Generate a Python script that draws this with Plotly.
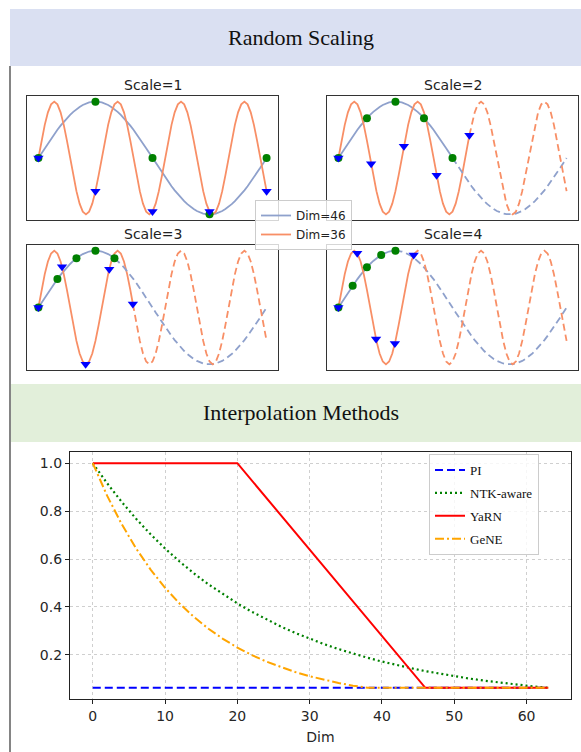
import plotly.graph_objects as go

W, H = 581, 752

# ---------------- Random Scaling data ----------------
t_grid = [k / 72 for k in range(73)]

dim46_vals = [
    0.0, 0.087, 0.174, 0.259, 0.342, 0.423, 0.5, 0.574, 0.643, 0.707, 0.766, 0.819, 0.866, 0.906, 0.94, 0.966, 0.985, 0.996, 1.0,
    0.996, 0.985, 0.966, 0.94, 0.906, 0.866, 0.819, 0.766, 0.707, 0.643, 0.574, 0.5, 0.423, 0.342, 0.259, 0.174, 0.087, 0.0,
    -0.087, -0.174, -0.259, -0.342, -0.423, -0.5, -0.574, -0.643, -0.707, -0.766, -0.819, -0.866, -0.906, -0.94, -0.966, -0.985, -0.996, -1.0,
    -0.996, -0.985, -0.966, -0.94, -0.906, -0.866, -0.819, -0.766, -0.707, -0.643, -0.574, -0.5, -0.423, -0.342, -0.259, -0.174, -0.087, 0.0,
]

dim36_vals = [
    0.0, 0.309, 0.588, 0.809, 0.951, 1.0, 0.951, 0.809, 0.588, 0.309, 0.0, -0.309, -0.588, -0.809, -0.951, -1.0, -0.951, -0.809, -0.588, -0.309,
    0.0, 0.309, 0.588, 0.809, 0.951, 1.0, 0.951, 0.809, 0.588, 0.309, 0.0, -0.309, -0.588, -0.809, -0.951, -1.0, -0.951, -0.809, -0.588, -0.309,
    0.0, 0.309, 0.588, 0.809, 0.951, 1.0, 0.951, 0.809, 0.588, 0.309, 0.0, -0.309, -0.588, -0.809, -0.951, -1.0, -0.951, -0.809, -0.588, -0.309,
    0.0, 0.309, 0.588, 0.809, 0.951, 1.0, 0.951, 0.809, 0.588, 0.309, 0.0, -0.309, -0.588,
]

scales = [1, 2, 3, 4]
scale_titles = ["Scale=1", "Scale=2", "Scale=3", "Scale=4"]

dot_t = {1: [0, 0.25, 0.5, 0.75, 1.0],
         2: [0, 0.125, 0.25, 0.375, 0.5],
         3: [0, 0.0833, 0.1667, 0.25, 0.3333],
         4: [0, 0.0625, 0.125, 0.1875, 0.25]}
dot_v = {1: [0, 1.0, 0, -1.0, 0],
         2: [0, 0.707, 1.0, 0.707, 0],
         3: [0, 0.5, 0.866, 1.0, 0.866],
         4: [0, 0.383, 0.707, 0.924, 1.0]}
tri_t = {1: [0, 0.25, 0.5, 0.75, 1.0],
         2: [0, 0.1435, 0.287, 0.4305, 0.574],
         3: [0, 0.1035, 0.207, 0.3105, 0.414],
         4: [0, 0.0825, 0.165, 0.2475, 0.33]}
tri_v = {1: [0, -0.588, -0.951, -0.951, -0.588],
         2: [0, -0.104, 0.207, -0.308, 0.405],
         3: [0, 0.718, -0.9996, 0.674, 0.061],
         4: [0, 0.957, -0.556, -0.632, 0.925]}

# ---------------- Interpolation Methods data ----------------
ntk_dims = [0, 2, 4, 6, 8, 10, 12, 14, 16, 18, 20, 22, 24, 26, 28, 30, 32, 34, 36, 38, 40,
            42, 44, 46, 48, 50, 52, 54, 56, 58, 60, 62, 63]
ntk_vals = [1.0, 0.9158, 0.8386, 0.7679, 0.7032, 0.644, 0.5897, 0.54, 0.4945, 0.4529, 0.4147,
            0.3798, 0.3478, 0.3185, 0.2916, 0.2671, 0.2446, 0.224, 0.2051, 0.1878, 0.172,
            0.1575, 0.1442, 0.1321, 0.121, 0.1108, 0.1014, 0.0929, 0.0851, 0.0779, 0.0713, 0.0653, 0.0625]
gene_dims = [0, 2, 4, 6, 8, 10, 12, 14, 16, 18, 20, 22, 24, 26, 28, 30, 32, 34, 36, 38, 63]
gene_vals = [1.0, 0.8635, 0.7456, 0.6438, 0.5559, 0.4801, 0.4145, 0.358, 0.3091, 0.2669, 0.2305,
             0.199, 0.1718, 0.1484, 0.1281, 0.1106, 0.0955, 0.0825, 0.0712, 0.0625, 0.0625]
yarn_dims = [0, 20, 46, 63]
yarn_vals = [1.0, 1.0, 0.0625, 0.0625]
pi_dims = [0, 63]
pi_vals = [0.0625, 0.0625]
x_ticks = [0, 10, 20, 30, 40, 50, 60]
y_ticks = [0.2, 0.4, 0.6, 0.8, 1.0]

# ---------------- styling ----------------
C46 = "#8fa1cc"
C36 = "#f88f66"
SANS = "DejaVu Sans"
SERIF = "Liberation Serif"
EPS = 1e-6


def fx(px):
    return px / W


def fy(py):
    return 1 - py / H


fig = go.Figure()

boxes = {1: (27, 278, 96, 220), 2: (327, 578, 96, 220),
         3: (27, 278, 245, 370), 4: (327, 578, 245, 370)}

layout_axes = {}
for i, s in enumerate(scales, start=1):
    xa = "x" if i == 1 else f"x{i}"
    ya = "y" if i == 1 else f"y{i}"
    x0, x1, y0, y1 = boxes[s]
    ax_common = dict(showgrid=False, zeroline=False, showticklabels=False, ticks="",
                     showline=True, linecolor="#333333", linewidth=1, mirror=True)
    layout_axes["xaxis" if i == 1 else f"xaxis{i}"] = dict(
        domain=[fx(x0), fx(x1)], range=[-0.05, 1.05], anchor=ya, **ax_common)
    layout_axes["yaxis" if i == 1 else f"yaxis{i}"] = dict(
        domain=[fy(y1), fy(y0)], range=[-1.1, 1.1], anchor=xa, **ax_common)

    if s == 1:
        b_solid = (t_grid, dim46_vals)
        o_solid = (t_grid, dim36_vals)
        b_dash = o_dash = None
    else:
        bt, bv = dot_t[s][-1], dot_v[s][-1]
        ot, ov = tri_t[s][-1], tri_v[s][-1]
        b_solid = ([t for t in t_grid if t < bt - EPS] + [bt],
                   [v for t, v in zip(t_grid, dim46_vals) if t < bt - EPS] + [bv])
        b_dash = ([bt] + [t for t in t_grid if t > bt + EPS],
                  [bv] + [v for t, v in zip(t_grid, dim46_vals) if t > bt + EPS])
        o_solid = ([t for t in t_grid if t < ot - EPS] + [ot],
                   [v for t, v in zip(t_grid, dim36_vals) if t < ot - EPS] + [ov])
        o_dash = ([ot] + [t for t in t_grid if t > ot + EPS],
                  [ov] + [v for t, v in zip(t_grid, dim36_vals) if t > ot + EPS])

    fig.add_trace(go.Scatter(x=b_solid[0], y=b_solid[1], mode="lines", xaxis=xa, yaxis=ya,
                             line=dict(color=C46, width=1.8), name="Dim=46",
                             showlegend=(s == 1), legend="legend"))
    fig.add_trace(go.Scatter(x=o_solid[0], y=o_solid[1], mode="lines", xaxis=xa, yaxis=ya,
                             line=dict(color=C36, width=1.8), name="Dim=36",
                             showlegend=(s == 1), legend="legend"))
    if b_dash is not None:
        fig.add_trace(go.Scatter(x=b_dash[0], y=b_dash[1], mode="lines", xaxis=xa, yaxis=ya,
                                 line=dict(color=C46, width=1.8, dash="7px,4px"), showlegend=False))
        fig.add_trace(go.Scatter(x=o_dash[0], y=o_dash[1], mode="lines", xaxis=xa, yaxis=ya,
                                 line=dict(color=C36, width=1.8, dash="7px,4px"), showlegend=False))
    fig.add_trace(go.Scatter(x=dot_t[s], y=dot_v[s], mode="markers", xaxis=xa, yaxis=ya,
                             marker=dict(symbol="circle", color="#008000", size=8, line=dict(width=0)),
                             showlegend=False))
    fig.add_trace(go.Scatter(x=tri_t[s], y=tri_v[s], mode="markers", xaxis=xa, yaxis=ya,
                             marker=dict(symbol="triangle-down", color="#0000ff", size=9, line=dict(width=0)),
                             showlegend=False))
    fig.add_annotation(x=(fx(x0) + fx(x1)) / 2, y=fy(y0 - 1), xref="paper", yref="paper",
                       text=scale_titles[i - 1], showarrow=False, xanchor="center", yanchor="bottom",
                       font=dict(family=SANS, size=14, color="#222222"))

# bottom chart
bx0, bx1, by0, by1 = 70, 571, 452, 699
axis_font = dict(family=SANS, size=14, color="#262626")
layout_axes["xaxis5"] = dict(domain=[fx(bx0), fx(bx1)], range=[-3.15, 66.15], anchor="y5",
                             tickvals=x_ticks, ticks="outside", ticklen=4, tickcolor="#222222",
                             showline=True, linecolor="#222222", linewidth=1.2, mirror=True,
                             showgrid=True, gridcolor="#cfcfcf", griddash="dot", gridwidth=1,
                             zeroline=False, tickfont=axis_font,
                             title=dict(text="Dim", font=axis_font, standoff=9))
layout_axes["yaxis5"] = dict(domain=[fy(by1), fy(by0)], range=[0.0156, 1.0469], anchor="x5",
                             tickvals=y_ticks, tickformat=".1f", ticks="outside", ticklen=4,
                             tickcolor="#222222",
                             showline=True, linecolor="#222222", linewidth=1.2, mirror=True,
                             showgrid=True, gridcolor="#cfcfcf", griddash="dot", gridwidth=1,
                             zeroline=False, tickfont=axis_font)

fig.add_trace(go.Scatter(x=pi_dims, y=pi_vals, mode="lines", xaxis="x5", yaxis="y5", name="PI",
                         line=dict(color="#0000ff", width=2, dash="8px,4px"),
                         legend="legend2", legendgroup="pi"))
fig.add_trace(go.Scatter(x=ntk_dims, y=ntk_vals, mode="lines", xaxis="x5", yaxis="y5", name="NTK-aware",
                         line=dict(color="#008000", width=2.2, dash="2px,3px"),
                         legend="legend2", legendgroup="ntk"))
fig.add_trace(go.Scatter(x=yarn_dims, y=yarn_vals, mode="lines", xaxis="x5", yaxis="y5", name="YaRN",
                         line=dict(color="#ff0000", width=2),
                         legend="legend2", legendgroup="yarn"))
fig.add_trace(go.Scatter(x=gene_dims, y=gene_vals, mode="lines", xaxis="x5", yaxis="y5", name="GeNE",
                         line=dict(color="#ffa500", width=2, dash="9px,3px,2px,3px"),
                         legend="legend2", legendgroup="gene"))

shapes = [
    dict(type="rect", xref="paper", yref="paper", x0=fx(10), x1=1, y0=fy(66), y1=fy(9),
         fillcolor="#dae0f2", line=dict(width=0), layer="below"),
    dict(type="rect", xref="paper", yref="paper", x0=fx(11), x1=1, y0=fy(442), y1=fy(384),
         fillcolor="#e2efda", line=dict(width=0), layer="below"),
    dict(type="line", xref="paper", yref="paper", x0=fx(10), x1=fx(10), y0=fy(66), y1=0,
         line=dict(color="#333333", width=1.2)),
]

fig.add_annotation(x=fx(301), y=fy(38), xref="paper", yref="paper", text="Random Scaling",
                   showarrow=False, xanchor="center", yanchor="middle",
                   font=dict(family=SERIF, size=22, color="#111111"))
fig.add_annotation(x=fx(301), y=fy(412), xref="paper", yref="paper", text="Interpolation Methods",
                   showarrow=False, xanchor="center", yanchor="middle",
                   font=dict(family=SERIF, size=22, color="#111111"))

fig.update_layout(
    width=W, height=H, margin=dict(l=0, r=0, t=0, b=0),
    paper_bgcolor="white", plot_bgcolor="white", template="none",
    shapes=shapes,
    legend=dict(x=fx(255), y=fy(200), xanchor="left", yanchor="top",
                bgcolor="rgba(255,255,255,0.8)", bordercolor="#cccccc", borderwidth=1,
                font=dict(family=SANS, size=12, color="#222222"), itemwidth=30,
                tracegroupgap=0),
    legend2=dict(x=fx(429), y=fy(454), xanchor="left", yanchor="top",
                 bgcolor="rgba(255,255,255,0.8)", bordercolor="#cccccc", borderwidth=1,
                 font=dict(family=SERIF, size=13, color="#111111"), itemwidth=30,
                 tracegroupgap=3, entrywidth=96),
    **layout_axes,
)

fig.write_html("out.html", config={"displayModeBar": False},
               post_script="document.body.style.margin='0';document.body.style.padding='0';")
